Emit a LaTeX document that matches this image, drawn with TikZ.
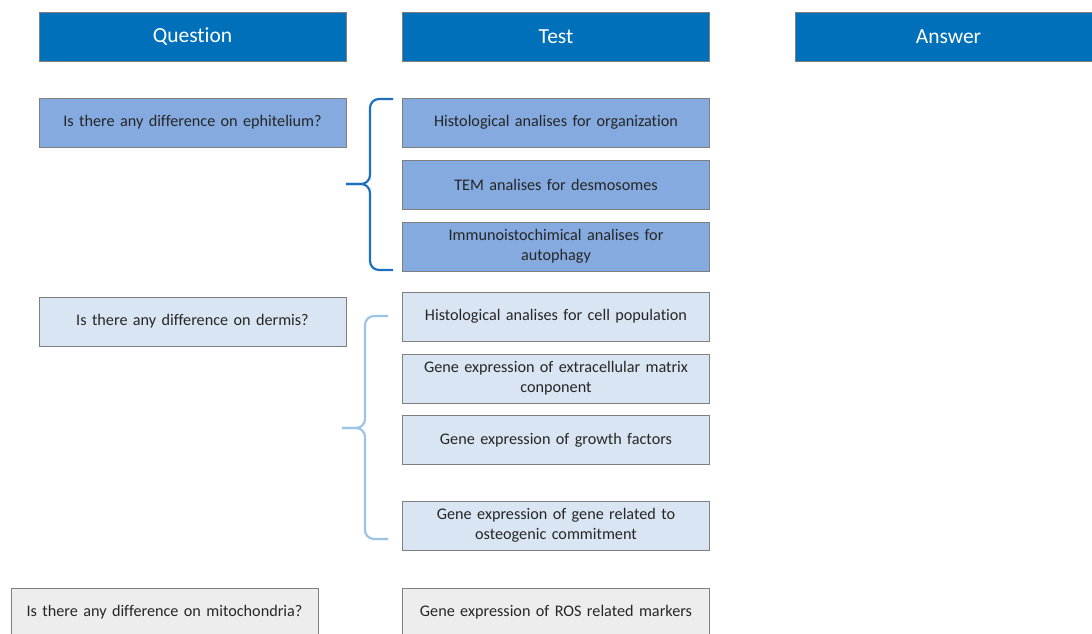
\documentclass[tikz,border=0pt]{standalone}
\usepackage{fontspec}
\setmainfont{Carlito}[RawFeature={-liga,-dlig,-clig}]
\definecolor{hdr}{HTML}{0070BA}
\definecolor{midblue}{HTML}{84AADF}
\definecolor{lightblue}{HTML}{DAE5F3}
\definecolor{lightgray}{HTML}{EDEDED}
\definecolor{edge}{HTML}{7F7F7F}
\definecolor{braceA}{HTML}{1F6FC0}
\definecolor{braceB}{HTML}{9DC3E6}
\definecolor{txt}{HTML}{262626}
\begin{document}
\begin{tikzpicture}[x=1pt,y=-1pt,
  box/.style={draw=edge,line width=0.8pt,minimum width=307pt,minimum height=49pt,inner sep=2pt,align=center,text width=300pt,font=\fontsize{16.2}{20}\selectfont,text=txt},
  hbox/.style={box,fill=hdr,text=white,font=\fontsize{21.5}{25}\selectfont},
  qA/.style={box,fill=midblue},
  qB/.style={box,fill=lightblue},
  qC/.style={box,fill=lightgray},
  bracelineA/.style={draw=braceA,line width=2.2pt,rounded corners=9pt},
  bracelineB/.style={draw=braceB,line width=2.2pt,rounded corners=9pt}]
\useasboundingbox (0,0) rectangle (1092,633);
% headers
\node[hbox] (hq) at (192.5,36.5) {Question};
\node[hbox] (ht) at (556,36.5) {Test};
\node[hbox] (ha) at (948.5,36.5) {Answer};
% epithelium
\node[qA] (q1) at (192.5,122.5) {Is there any difference on ephitelium?};
\node[qA] (t11) at (556,122.5) {Histological analises for organization};
\node[qA] (t12) at (556,184.5) {TEM analises for desmosomes};
\node[qA] (t13) at (556,246.5) {Immunoistochimical analises for\\autophagy};
% dermis
\node[qB] (q2) at (192.5,321.5) {Is there any difference on dermis?};
\node[qB] (t21) at (556,316.5) {Histological analises for cell population};
\node[qB] (t22) at (556,378.5) {Gene expression of extracellular matrix\\conponent};
\node[qB] (t23) at (556,440) {Gene expression of growth factors};
\node[qB] (t24) at (556,525.5) {Gene expression of gene related to\\osteogenic commitment};
% mitochondria
\node[qC] (q3) at (164.5,612.5) {Is there any difference on mitochondria?};
\node[qC] (t31) at (556,612.5) {Gene expression of ROS related markers};
% braces
\coordinate (b1tip) at (346,184);
\coordinate (b1top) at (393,99);
\coordinate (b1bot) at (393,270);
\draw[bracelineA] (b1top) -- (370,99) -- (370,184) -- (b1tip);
\draw[bracelineA] (b1bot) -- (370,270) -- (370,184) -- (b1tip);
\coordinate (b2tip) at (342,428);
\coordinate (b2top) at (388,316);
\coordinate (b2bot) at (388,539);
\draw[bracelineB] (b2top) -- (365,316) -- (365,428) -- (b2tip);
\draw[bracelineB] (b2bot) -- (365,539) -- (365,428) -- (b2tip);
\end{tikzpicture}
\end{document}
